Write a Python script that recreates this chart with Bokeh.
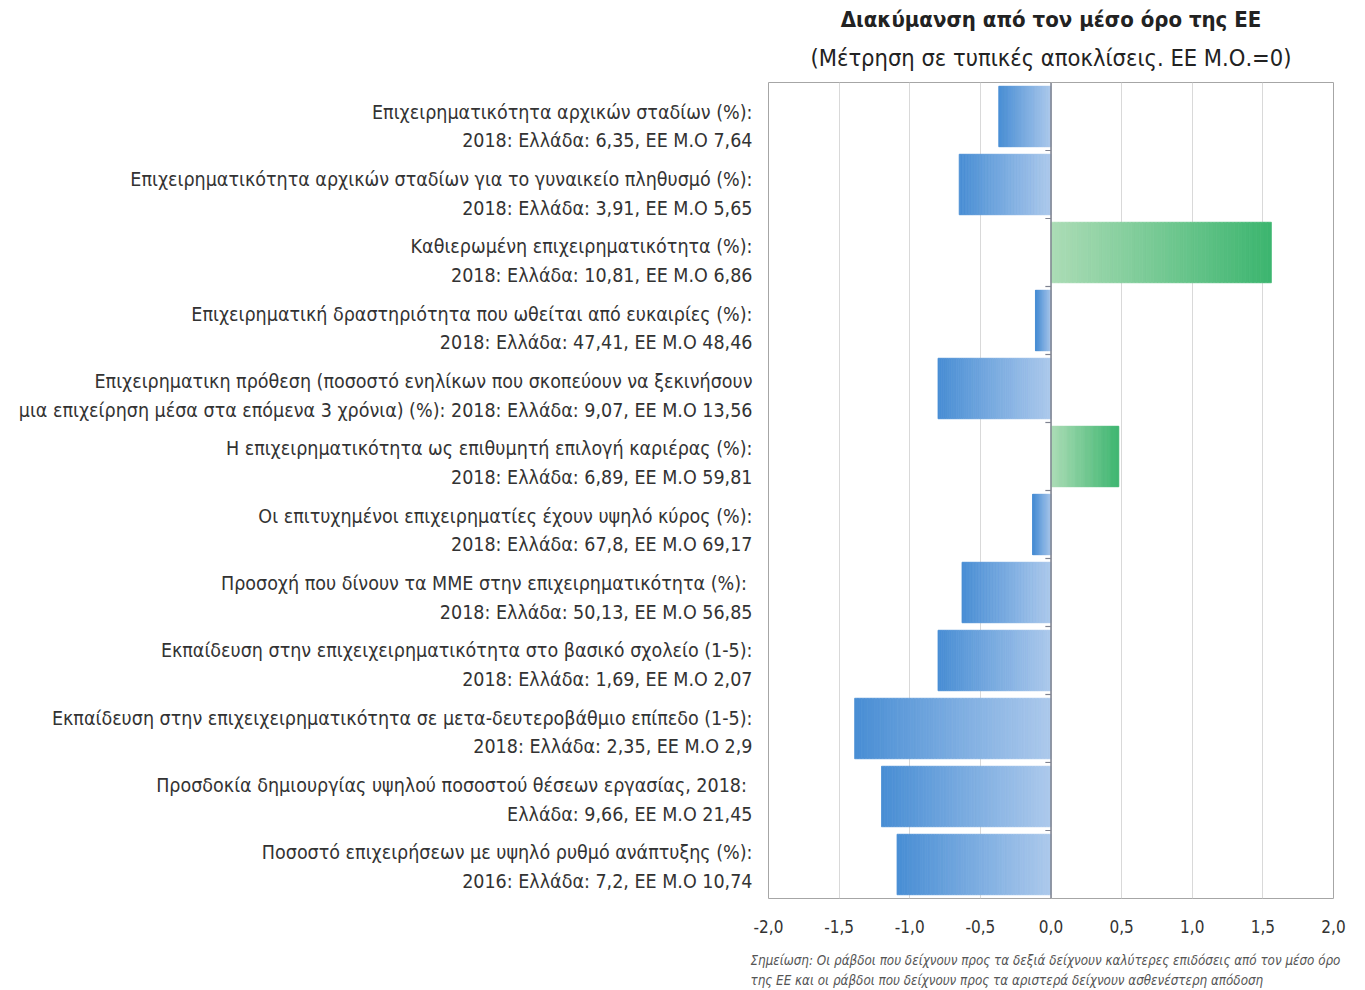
from bokeh.plotting import figure
from bokeh.models import Range1d, FixedTicker, CustomJSTickFormatter, Title
from bokeh.embed import file_html
from bokeh.resources import INLINE

# ---------------- data ----------------
label_line1 = [
    "Επιχειρηματικότητα αρχικών σταδίων (%):",
    "Επιχειρηματικότητα αρχικών σταδίων για το γυναικείο πληθυσμό (%):",
    "Καθιερωμένη επιχειρηματικότητα (%):",
    "Επιχειρηματική δραστηριότητα που ωθείται από ευκαιρίες (%):",
    "Επιχειρηματικη πρόθεση (ποσοστό ενηλίκων που σκοπεύουν να ξεκινήσουν",
    "Η επιχειρηματικότητα ως επιθυμητή επιλογή καριέρας (%):",
    "Οι επιτυχημένοι επιχειρηματίες έχουν υψηλό κύρος (%):",
    "Προσοχή που δίνουν τα ΜΜΕ στην επιχειρηματικότητα  (%):",
    "Εκπαίδευση στην επιχειχειρηματικότητα στο βασικό σχολείο (1-5):",
    "Εκπαίδευση στην επιχειχειρηματικότητα σε μετα-δευτεροβάθμιο επίπεδο (1-5):",
    "Προσδοκία δημιουργίας υψηλού ποσοστού  θέσεων εργασίας, 2018:",
    "Ποσοστό επιχειρήσεων με υψηλό ρυθμό ανάπτυξης (%):",
]
label_line2 = [
    "2018: Ελλάδα: 6,35, ΕΕ Μ.Ο 7,64",
    "2018: Ελλάδα: 3,91, ΕΕ Μ.Ο 5,65",
    "2018: Ελλάδα: 10,81, ΕΕ Μ.Ο 6,86",
    "2018: Ελλάδα: 47,41, ΕΕ Μ.Ο 48,46",
    "μια επιχείρηση μέσα στα επόμενα 3 χρόνια) (%): 2018: Ελλάδα: 9,07, ΕΕ Μ.Ο 13,56",
    "2018: Ελλάδα: 6,89, ΕΕ Μ.Ο 59,81",
    "2018: Ελλάδα: 67,8, ΕΕ Μ.Ο 69,17",
    "2018: Ελλάδα: 50,13, ΕΕ Μ.Ο 56,85",
    "2018: Ελλάδα: 1,69, ΕΕ Μ.Ο 2,07",
    "2018: Ελλάδα: 2,35, ΕΕ Μ.Ο 2,9",
    "Ελλάδα: 9,66, ΕΕ Μ.Ο 21,45",
    "2016: Ελλάδα: 7,2, ΕΕ Μ.Ο 10,74",
]
deviation = [-0.37, -0.65, 1.56, -0.11, -0.80, 0.48, -0.13, -0.63, -0.80, -1.39, -1.20, -1.09]
x_ticks = [-2.0, -1.5, -1.0, -0.5, 0.0, 0.5, 1.0, 1.5, 2.0]

title_text = "Διακύμανση από τον μέσο όρο της ΕΕ"
subtitle_text = "(Μέτρηση σε τυπικές αποκλίσεις. ΕΕ Μ.Ο.=0)"
note_line1 = "Σημείωση: Οι ράβδοι που δείχνουν προς τα δεξιά δείχνουν καλύτερες επιδόσεις από τον μέσο όρο"
note_line2 = "της ΕΕ και οι ράβδοι  που δείχνουν προς τα αριστερά δείχνουν ασθενέστερη απόδοση"

# ---------------- styling ----------------
FONT = "DejaVu Sans Condensed"
BLUE_LIGHT, BLUE_DARK = (173, 201, 236), (72, 142, 212)
GREEN_LIGHT, GREEN_DARK = (172, 220, 182), (60, 181, 111)
N_SLICES = 60


def mix(c1, c2, t):
    return "#%02x%02x%02x" % tuple(int(round(a + (b - a) * t)) for a, b in zip(c1, c2))


n = len(deviation)
p = figure(frame_width=565, frame_height=816, output_backend="svg", toolbar_location=None,
           x_range=Range1d(-2.0, 2.0), y_range=Range1d(n, 0),
           min_border_left=768, min_border_right=16, min_border_top=0, min_border_bottom=0)

p.outline_line_color = "#a6a6a6"
p.outline_line_width = 1
p.background_fill_color = "white"
p.border_fill_color = "white"

# gradient bars built as thin slices from 0 to value
lefts, rights, ys, cols = [], [], [], []
for i, v in enumerate(deviation):
    light, dark = (GREEN_LIGHT, GREEN_DARK) if v > 0 else (BLUE_LIGHT, BLUE_DARK)
    for k in range(N_SLICES):
        a = v * k / N_SLICES
        b = v * (k + 1) / N_SLICES
        lefts.append(min(a, b))
        rights.append(max(a, b))
        ys.append(i + 0.5)
        cols.append(mix(light, dark, (k + 0.5) / N_SLICES))
p.hbar(y=ys, left=lefts, right=rights, height=0.89, fill_color=cols, line_color=cols, line_width=0.8)

# zero axis and its category ticks
p.segment(x0=[0], y0=[0], x1=[0], y1=[n], line_color="#7f8391", line_width=1.5)
bounds = list(range(1, n))
p.segment(x0=[-0.04] * len(bounds), y0=bounds, x1=[0] * len(bounds), y1=bounds,
          line_color="#7f8391", line_width=1.2)

# x axis
p.xaxis.ticker = FixedTicker(ticks=x_ticks)
p.xaxis.formatter = CustomJSTickFormatter(code="return tick.toFixed(1).replace('.', ',');")
p.xaxis.axis_line_color = None
p.xaxis.major_tick_line_color = None
p.xaxis.minor_tick_line_color = None
p.xaxis.major_label_text_font = FONT
p.xaxis.major_label_text_font_size = "17px"
p.xaxis.major_label_text_color = "#333333"
p.xaxis.major_label_standoff = 15
p.xgrid.ticker = FixedTicker(ticks=x_ticks)
p.xgrid.grid_line_color = "#d9d9d9"
p.ygrid.grid_line_color = None

# y axis: two-line category labels (label block sits a little below each bar centre,
# with the label pitch slightly tighter than the bar pitch, as in the original layout)
y_pos = [i + 0.5 + 0.147 - 0.109 * i / (n - 1) for i in range(n)]
p.yaxis.ticker = FixedTicker(ticks=y_pos)
p.yaxis.major_label_overrides = {y: label_line1[i] + "\n" + label_line2[i] for i, y in enumerate(y_pos)}
p.yaxis.axis_line_color = None
p.yaxis.major_tick_line_color = None
p.yaxis.minor_tick_line_color = None
p.yaxis.major_label_text_font = FONT
p.yaxis.major_label_text_font_size = "19.5px"
p.yaxis.major_label_text_line_height = 1.24
p.yaxis.major_label_text_color = "#333333"
p.yaxis.major_label_text_align = "right"
p.yaxis.major_label_standoff = 10

# titles (last added "above" is outermost)
p.add_layout(Title(text=subtitle_text, align="center", text_font=FONT, text_font_size="23.5px",
                   text_font_style="normal", text_color="#222222", standoff=21), "above")
p.add_layout(Title(text=title_text, align="center", text_font=FONT, text_font_size="22px",
                   text_font_style="bold", text_color="#222222", standoff=0), "above")
p.add_layout(Title(text=" ", text_font_size="2px", standoff=0), "above")

# note as one two-line title below the axis
p.add_layout(Title(text=note_line1 + "\n" + note_line2, align="left", offset=-18, text_font=FONT,
                   text_font_size="13.3px", text_font_style="italic", text_color="#555555",
                   text_line_height=1.3, standoff=30), "below")

open("out.html", "w").write(file_html(p, INLINE))
